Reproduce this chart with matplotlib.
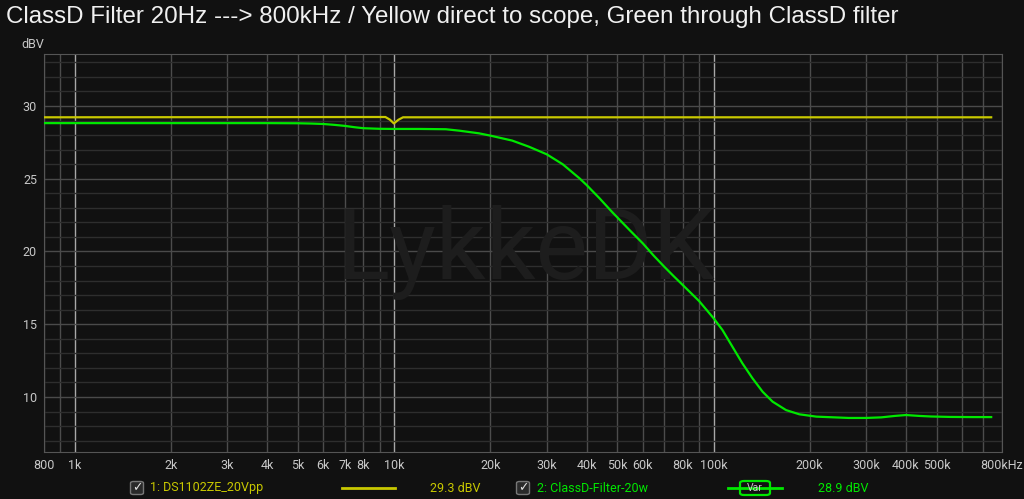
import matplotlib
matplotlib.use("Agg")
import matplotlib.pyplot as plt
from matplotlib.patches import FancyBboxPatch
from matplotlib.lines import Line2D

# measured curves (Hz, dBV)
green_f = [800, 1000, 2000, 4000, 5000, 5500, 6000, 6500, 7000, 7500, 8000, 9000,
           10000, 12000, 14500, 16000, 18400, 20000, 23400, 26400, 30000, 33700,
           38000, 40000, 43900, 48200, 54500, 60000, 65000, 70000, 75000, 80000,
           90000, 100000, 106600, 114500, 123000, 132400, 142400, 153000, 168600,
           185600, 209800, 265000, 300000, 335000, 370000, 400000, 440000, 480000,
           550000, 650000, 740000]
green_db = [28.82, 28.82, 28.82, 28.82, 28.81, 28.79, 28.76, 28.70, 28.63, 28.54,
            28.47, 28.43, 28.42, 28.42, 28.40, 28.30, 28.12, 27.96, 27.62, 27.20,
            26.68, 25.99, 25.03, 24.57, 23.66, 22.69, 21.48, 20.56, 19.70, 18.96,
            18.30, 17.70, 16.60, 15.41, 14.60, 13.46, 12.32, 11.28, 10.36, 9.68,
            9.10, 8.81, 8.65, 8.56, 8.56, 8.60, 8.70, 8.76, 8.70, 8.66, 8.63, 8.62,
            8.62]

yellow_f = [800, 9380, 9700, 9970, 10300, 10650, 740000]
yellow_db = [29.22, 29.24, 29.05, 28.80, 29.05, 29.22, 29.22]

x_ticks = [800, 1000, 2000, 3000, 4000, 5000, 6000, 7000, 8000, 10000, 20000,
           30000, 40000, 50000, 60000, 80000, 100000, 200000, 300000, 400000,
           500000, 800000]
x_labels = ["800", "1k", "2k", "3k", "4k", "5k", "6k", "7k", "8k", "10k", "20k",
            "30k", "40k", "50k", "60k", "80k", "100k", "200k", "300k", "400k",
            "500k", "800kHz"]
y_ticks = [10, 15, 20, 25, 30]

title = "ClassD Filter 20Hz ---> 800kHz / Yellow direct to scope, Green through ClassD filter"
name1, val1 = "1: DS1102ZE_20Vpp", "29.3 dBV"
name2, val2 = "2: ClassD-Filter-20w", "28.9 dBV"

BG = "#111111"
YEL = "#c8c800"
GRN = "#00e800"
plt.rcParams['font.family'] = ['Roboto', 'DejaVu Sans']

W, H = 1024, 499
fig = plt.figure(figsize=(W / 100, H / 100), dpi=100, facecolor=BG)
ax = fig.add_axes([44 / W, (H - 452) / H, (1002 - 44) / W, (452 - 54) / H])
ax.set_facecolor(BG)
ax.set_xscale("log")
ax.set_xlim(800, 790000)
ax.set_ylim(6.22, 33.57)

# grid
for dec in [100, 1000, 10000, 100000]:
    for m in range(1, 10):
        f = dec * m
        if f < 800 or f > 800000:
            continue
        if m == 1:
            ax.axvline(f, color="#a8a8a8", lw=1.0, zorder=1)
        else:
            ax.axvline(f, color="#4c4c4c", lw=1.0, zorder=1)
for v in range(7, 34):
    ax.axhline(v, color="#4a4a4a" if v % 5 == 0 else "#2e2e2e", lw=1.0, zorder=1)

ax.text(0.503, 0.50, "LykkeDK", transform=ax.transAxes, ha="center", va="center",
        fontsize=71, color="#1d1d1d", family="Roboto", zorder=2)

ax.plot(yellow_f, yellow_db, color=YEL, lw=1.6, zorder=4, solid_joinstyle="round")
ax.plot(green_f, green_db, color=GRN, lw=1.6, zorder=5, solid_joinstyle="round")

ax.set_xticks(x_ticks)
ax.set_xticklabels(x_labels)
ax.minorticks_off()
ax.set_xticks([], minor=True)
ax.set_yticks(y_ticks)
ax.tick_params(length=0, colors="#c8c8c8", labelsize=9, pad=5)
for s in ax.spines.values():
    s.set_color("#555555")

fig.text(33 / W, 1 - 45 / H, "dBV", color="#c8c8c8", fontsize=9, ha="center", va="center")
fig.text(6 / W, 1 - 17 / H, title, color="#f0f0f0", fontsize=17.4, ha="left", va="center",
         family="Liberation Sans")

# legend row
ly = 1 - 488 / H
for cx in [137, 523]:
    fig.patches.append(FancyBboxPatch(((cx - 6.5) / W, ly - 6.5 / H), 13 / W, 13 / H,
                                      boxstyle="round,pad=0,rounding_size=0.003",
                                      transform=fig.transFigure, fc="#2a2a2a",
                                      ec="#777777", lw=1))
    fig.text(cx / W, ly, "\u2713", color="#e0e0e0", fontsize=9, ha="center", va="center",
             family="DejaVu Sans")
fig.text(150 / W, ly, name1, color=YEL, fontsize=9, ha="left", va="center")
fig.lines.append(Line2D([342 / W, 395 / W], [ly, ly], color=YEL, lw=2,
                        transform=fig.transFigure))
fig.text(430 / W, ly, val1, color=YEL, fontsize=9, ha="left", va="center")
fig.text(537 / W, ly, name2, color=GRN, fontsize=9, ha="left", va="center")
fig.lines.append(Line2D([728 / W, 782 / W], [ly, ly], color=GRN, lw=2,
                        transform=fig.transFigure))
fig.patches.append(FancyBboxPatch((740 / W, ly - 7 / H), 30 / W, 14 / H,
                                  boxstyle="round,pad=0,rounding_size=0.004",
                                  transform=fig.transFigure, fc=BG, ec=GRN, lw=1.6))
fig.text(755 / W, ly, "Var", color="#c8c8c8", fontsize=7.5, ha="center", va="center")
fig.text(818 / W, ly, val2, color=GRN, fontsize=9, ha="left", va="center")

fig.savefig("out.png", dpi=100, facecolor=BG)
